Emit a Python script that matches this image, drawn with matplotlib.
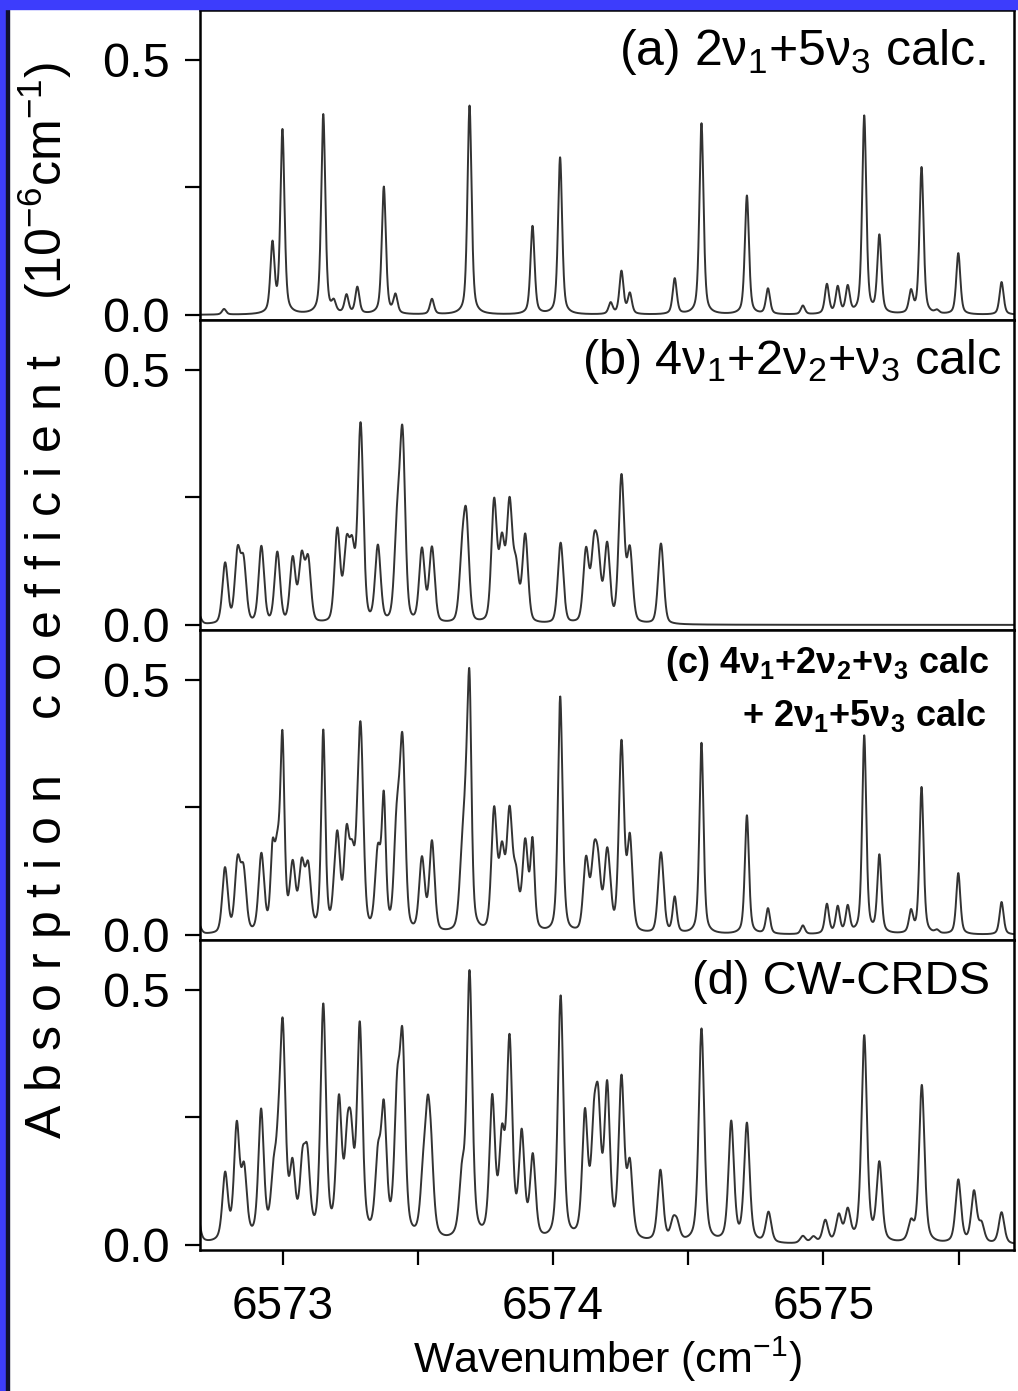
import numpy as np
import matplotlib
matplotlib.use("Agg")
import matplotlib.pyplot as plt
from matplotlib import font_manager
from matplotlib.patches import Rectangle

# line lists: position (cm-1) and peak height (1e-6 cm-1)
a_pos = [6572.783, 6572.962, 6572.999, 6573.150, 6573.189, 6573.236, 6573.276,
         6573.374, 6573.417, 6573.552, 6573.691, 6573.924, 6574.026, 6574.213,
         6574.253, 6574.284, 6574.450, 6574.549, 6574.717, 6574.795, 6574.924,
         6575.013, 6575.053, 6575.090, 6575.151, 6575.207, 6575.324, 6575.363,
         6575.420, 6575.499, 6575.659]
a_int = [0.011, 0.135, 0.360, 0.392, 0.020, 0.036, 0.052,
         0.250, 0.036, 0.030, 0.410, 0.173, 0.308, 0.022,
         0.084, 0.040, 0.070, 0.375, 0.233, 0.050, 0.017,
         0.058, 0.052, 0.052, 0.388, 0.152, 0.042, 0.288,
         0.006, 0.120, 0.064]

b_pos = [6572.685, 6572.787, 6572.833, 6572.855, 6572.921, 6572.980, 6573.037,
         6573.070, 6573.094, 6573.202, 6573.236, 6573.257, 6573.288, 6573.352,
         6573.423, 6573.443, 6573.515, 6573.552, 6573.663, 6573.679, 6573.782,
         6573.811, 6573.839, 6573.863, 6573.897, 6574.028, 6574.122, 6574.151,
         6574.167, 6574.200, 6574.253, 6574.284, 6574.399]
b_int = [0.025, 0.118, 0.135, 0.115, 0.150, 0.138, 0.125,
         0.125, 0.120, 0.180, 0.140, 0.130, 0.385, 0.148,
         0.170, 0.355, 0.142, 0.146, 0.110, 0.190, 0.235,
         0.150, 0.225, 0.100, 0.170, 0.158, 0.140, 0.130,
         0.110, 0.150, 0.285, 0.140, 0.158]

d_pos = [6572.680, 6572.787, 6572.830, 6572.857, 6572.920, 6572.966, 6572.983,
         6573.000, 6573.036, 6573.073, 6573.091, 6573.150, 6573.208, 6573.239,
         6573.253, 6573.285, 6573.352, 6573.374, 6573.423, 6573.443, 6573.519,
         6573.536, 6573.549, 6573.663, 6573.691, 6573.775, 6573.811, 6573.839,
         6573.884, 6573.925, 6574.028, 6574.118, 6574.151, 6574.167, 6574.200,
         6574.253, 6574.284, 6574.397, 6574.444, 6574.459, 6574.549, 6574.659,
         6574.717, 6574.797, 6574.924, 6574.963, 6575.007, 6575.057, 6575.090,
         6575.151, 6575.207, 6575.324, 6575.364, 6575.499, 6575.557, 6575.585,
         6575.659]
d_int = [0.090, 0.130, 0.220, 0.130, 0.250, 0.100, 0.110,
         0.390, 0.130, 0.130, 0.140, 0.455, 0.260, 0.150,
         0.150, 0.410, 0.140, 0.240, 0.250, 0.360, 0.100,
         0.200, 0.120, 0.110, 0.520, 0.270, 0.180, 0.380,
         0.200, 0.160, 0.480, 0.240, 0.180, 0.220, 0.290,
         0.310, 0.140, 0.140, 0.035, 0.030, 0.420, 0.235,
         0.232, 0.060, 0.014, 0.012, 0.044, 0.052, 0.060,
         0.405, 0.153, 0.036, 0.310, 0.124, 0.100, 0.035,
         0.062]

panel_labels = ["(a) 2ν$_1$+5ν$_3$ calc.",
                "(b) 4ν$_1$+2ν$_2$+ν$_3$ calc",
                "(d) CW-CRDS"]
c_label_1 = r"(c) 4ν$_\mathbf{1}$+2ν$_\mathbf{2}$+ν$_\mathbf{3}$ calc"
c_label_2 = r"+ 2ν$_\mathbf{1}$+5ν$_\mathbf{3}$ calc"

x_major = [6573, 6574, 6575]
x_minor = [6573.5, 6574.5, 6575.5]
y_major = [0.0, 0.5]
y_minor = [0.25]

plt.rcParams['font.family'] = ['Liberation Sans', 'DejaVu Sans']
plt.rcParams['mathtext.fontset'] = 'custom'
plt.rcParams['mathtext.rm'] = 'Liberation Sans'
plt.rcParams['mathtext.it'] = 'Liberation Sans:italic'
plt.rcParams['mathtext.bf'] = 'Liberation Sans:bold'

names = set(f.name for f in font_manager.fontManager.ttflist)
narrow = 'Liberation Sans Narrow' if 'Liberation Sans Narrow' in names else 'Liberation Sans'


def spectrum(wn, pos, inten, fwhm, eta):
    # pseudo-Voigt line shapes summed over the line list
    y = np.zeros_like(wn)
    for p, h in zip(pos, inten):
        u = (wn - p) / fwhm
        g = np.exp(-4 * np.log(2) * u ** 2)
        l = 1.0 / (1.0 + 4 * u ** 2)
        y += h * (eta * l + (1 - eta) * g)
    return y


wn = np.linspace(6572.6, 6575.8, 8000)
spec_a = spectrum(wn, a_pos, a_int, 0.018, 0.5)
spec_b = spectrum(wn, b_pos, b_int, 0.024, 0.3)
spec_c = spec_a + spec_b
spec_d = spectrum(wn, d_pos, d_int, 0.024, 0.5)

W, H = 1018, 1391
fig = plt.figure(figsize=(W / 100, H / 100), dpi=100)
fig.patch.set_facecolor('white')

# blue slide frame on left and top
fig.patches.append(Rectangle((0, 0), 6 / W, 1, transform=fig.transFigure, color='#3d3dfc', zorder=0))
fig.patches.append(Rectangle((6 / W, 0), 3 / W, 1, transform=fig.transFigure, color='#101030', zorder=0))
fig.patches.append(Rectangle((0, 1 - 9 / H), 1, 9 / H, transform=fig.transFigure, color='#3d3dfc', zorder=0))

left, right = 200 / W, 1014 / W
tops = [10, 320, 630, 940]
ph = 310
axes = []
for t in tops:
    ax = fig.add_axes([left, 1 - (t + ph) / H, right - left, ph / H])
    axes.append(ax)

specs = [spec_a, spec_b, spec_c, spec_d]
for i, ax in enumerate(axes):
    ax.plot(wn, specs[i], color='#333333', lw=1.4)
    ax.set_yticks(y_major)
    ax.set_yticks(y_minor, minor=True)
    ax.set_yticklabels(['0.0', '0.5'])
    ax.set_xticks(x_major)
    ax.set_xticks(x_minor, minor=True)
    ax.set_xlim(6572.694, 6575.705)
    ax.set_ylim(-0.01, 0.598)
    ax.tick_params(axis='both', which='both', direction='out', length=11, width=1.6)
    ax.tick_params(axis='y', labelsize=35, pad=11)
    for s in ax.spines.values():
        s.set_linewidth(1.8)
        s.set_color('black')
    if i < 3:
        ax.tick_params(axis='x', which='both', bottom=False, labelbottom=False)
    else:
        ax.set_xticklabels([str(v) for v in x_major], fontfamily=narrow, fontsize=33)
        ax.tick_params(axis='x', pad=14)

axes[0].text(0.965, 0.945, panel_labels[0], transform=axes[0].transAxes,
             ha='right', va='top', fontsize=36)
axes[1].text(0.985, 0.945, panel_labels[1], transform=axes[1].transAxes,
             ha='right', va='top', fontsize=35)
axes[2].text(0.97, 0.955, c_label_1, transform=axes[2].transAxes,
             ha='right', va='top', fontsize=26, fontweight='bold')
axes[2].text(0.967, 0.785, c_label_2, transform=axes[2].transAxes,
             ha='right', va='top', fontsize=26, fontweight='bold')
axes[3].text(0.97, 0.935, panel_labels[2], transform=axes[3].transAxes,
             ha='right', va='top', fontsize=34)

axes[3].set_xlabel("Wavenumber (cm$^{-1}$)", fontsize=31, labelpad=4)

ylab = "A b s o r p t i o n    c o e f f i c i e n t    (10$^{-6}$cm$^{-1}$)"
fig.text(45 / W, 1 - 600 / H, ylab, rotation=90, ha='center', va='center', fontsize=36)

fig.savefig("out.png", dpi=100, facecolor=fig.get_facecolor())
